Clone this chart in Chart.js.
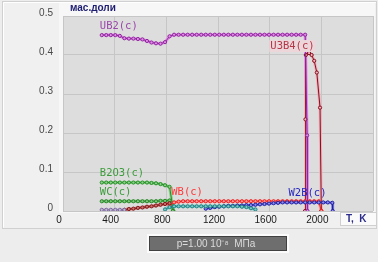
<!DOCTYPE html>
<html><head><meta charset="utf-8">
<script src="https://cdn.jsdelivr.net/npm/chart.js@4.4.1/dist/chart.umd.min.js"></script>
<style>html,body{margin:0;padding:0;background:#eeeeee;}canvas{display:block;}</style>
</head><body>
<canvas id="c" width="378" height="262"></canvas>
<script>
// ---- data ----
const xTicks = [0, 400, 800, 1200, 1600, 2000, 2400];
const xTickLabels = ['0', '400', '800', '1200', '1600', '2000', ''];
const yTicks = [0, 0.1, 0.2, 0.3, 0.4, 0.5];
const yTickLabels = ['0', '0.1', '0.2', '0.3', '0.4', '0.5'];

const T_UB2 = [300,335,370,405,440,475,510,545,580,615,650,685,720,755,790,825,860,895,930,965,1000,1035,1070,1105,1140,1175,1210,1245,1280,1315,1350,1385,1420,1455,1490,1525,1560,1595,1630,1665,1700,1735,1770,1805,1840,1875,1890,1893];
const UB2 = [0.451,0.451,0.451,0.451,0.449,0.443,0.442,0.442,0.441,0.440,0.436,0.432,0.430,0.429,0.433,0.448,0.452,0.452,0.452,0.452,0.452,0.452,0.452,0.452,0.452,0.452,0.452,0.452,0.452,0.452,0.452,0.452,0.452,0.452,0.452,0.452,0.452,0.452,0.452,0.452,0.452,0.452,0.452,0.452,0.452,0.452,0.194,0];

const T_U3B4 = [1874,1877,1880,1905,1925,1945,1965,1990,2000];
const U3B4 = [0,0.235,0.400,0.405,0.400,0.385,0.355,0.265,0];

const T_B2O3 = [300,335,370,405,440,475,510,545,580,615,650,685,720,755,790,825,845,855];
const B2O3 = [0.073,0.073,0.073,0.073,0.073,0.073,0.073,0.073,0.073,0.073,0.073,0.072,0.071,0.069,0.066,0.062,0.020,0];

const T_WC = [300,335,370,405,440,475,510,545,580,615,650,685,720,755,790,825,850];
const WC = [0.025,0.025,0.025,0.025,0.025,0.025,0.025,0.025,0.025,0.025,0.025,0.025,0.025,0.026,0.026,0.027,0];

const T_LAV = [300,335,370,405,440,475];
const LAV = [0.003,0.003,0.003,0.003,0.003,0.003];

const T_MAR = [475,510,545,580,615,650,685,720,755,790,825];
const MAR = [0.003,0.005,0.006,0.008,0.009,0.011,0.012,0.014,0.016,0.018,0.020];

const T_WB = [825,860,895,930,965,1000,1035,1070,1105,1140,1175,1210,1245,1280,1315,1350,1385,1420,1455,1490,1525,1560,1595,1630,1665,1700,1735,1770,1805,1840,1875,1910,1945,1980,2000];
const WB = [0.015,0.022,0.024,0.025,0.025,0.025,0.025,0.025,0.025,0.025,0.025,0.025,0.025,0.025,0.025,0.025,0.025,0.025,0.025,0.025,0.025,0.025,0.025,0.025,0.025,0.025,0.025,0.025,0.025,0.025,0.025,0.025,0.025,0.025,0];

const T_TEAL = [790,825,860,895,930,965,1000,1035,1070,1105,1140,1175,1210,1245,1280,1315,1350,1385,1420,1455,1490];
const TEAL = [0.004,0.010,0.012,0.012,0.012,0.012,0.012,0.012,0.012,0.012,0.012,0.012,0.012,0.012,0.012,0.012,0.012,0.011,0.010,0.007,0.004];

const T_W2B = [1105,1140,1175,1210,1245,1280,1315,1350,1385,1420,1455,1490,1525,1560,1595,1630,1665,1700,1735,1770,1805,1840,1875,1910,1945,1980,2015,2050,2085,2088];
const W2B = [0.006,0.008,0.010,0.011,0.012,0.013,0.013,0.014,0.014,0.015,0.015,0.016,0.017,0.018,0.019,0.020,0.021,0.022,0.022,0.022,0.022,0.022,0.022,0.022,0.022,0.022,0.022,0.022,0.021,0];

// ---- series styling ----
const series = [
  {t:T_LAV,  v:LAV,  core:'#7a6a98', halo:'#c4b8d8'},
  {t:T_MAR,  v:MAR,  core:'#801818', halo:'#d07070'},
  {t:T_TEAL, v:TEAL, core:'#1f8080', halo:'#7cc8c8'},
  {t:T_W2B,  v:W2B,  core:'#20209a', halo:'#8c8cf0'},
  {t:T_WB,   v:WB,   core:'#f01c1c', halo:'#ff9a9a'},
  {t:T_WC,   v:WC,   core:'#2a802a', halo:'#7ccc7c'},
  {t:T_B2O3, v:B2O3, core:'#2a8a2a', halo:'#88d488'},
  {t:T_UB2,  v:UB2,  core:'#8a2a9a', halo:'#e48ae8'},
  {t:T_U3B4, v:U3B4, core:'#860f1c', halo:'#f2b0bc'}
];

const seriesLabels = [
  {text:'UB2(c)',  x:285,  y:0.474, color:'#9a48aa'},
  {text:'U3B4(c)', x:1605, y:0.423, color:'#b23848', bg:'#ecd6da'},
  {text:'B2O3(c)', x:285,  y:0.097, color:'#3c9c3c'},
  {text:'WC(c)',   x:285,  y:0.048, color:'#3c9c3c'},
  {text:'WB(c)',   x:838,  y:0.048, color:'#ff3a3a'},
  {text:'W2B(c)',  x:1746, y:0.046, color:'#2626c0'}
];

const datasets = [];
series.forEach(s => {
  const pts = s.t.map((t, i) => ({x: t, y: s.v[i]}));
  datasets.push({data: pts, borderColor: s.core, borderWidth: 1, pointRadius: 1.6,
    pointBorderWidth: 1, pointBorderColor: s.core, pointBackgroundColor: s.halo, order: 0, tension: 0});
  datasets.push({data: pts, borderColor: s.halo, borderWidth: 3, pointRadius: 0, order: 1, tension: 0});
});

const framePlugin = {
  id: 'frame',
  beforeDraw(chart) {
    const c = chart.ctx, a = chart.chartArea;
    c.save();
    c.fillStyle = '#ededed'; c.fillRect(0, 0, 378, 262);
    c.fillStyle = '#f0f0f0'; c.fillRect(2, 1, 375, 228);
    c.strokeStyle = '#d0d0d0'; c.lineWidth = 1; c.strokeRect(2.5, 1.5, 374, 227);
    c.strokeStyle = '#ffffff';
    c.beginPath(); c.moveTo(3.5, 227.5); c.lineTo(3.5, 2.5); c.lineTo(376, 2.5); c.stroke();
    c.fillStyle = '#f7f7f7'; c.fillRect(a.left - 4, 3, a.right - a.left + 6, a.bottom - 1);
    c.fillStyle = '#dddddd'; c.fillRect(a.left, a.top, a.right - a.left, a.bottom - a.top);
    c.restore();
  },
  afterDraw(chart) {
    const c = chart.ctx, xs = chart.scales.x, ys = chart.scales.y;
    c.save();
    c.font = '10.5px "DejaVu Sans Mono"';
    c.textBaseline = 'middle'; c.textAlign = 'left';
    seriesLabels.forEach(l => {
      const px = xs.getPixelForValue(l.x), py = ys.getPixelForValue(l.y);
      if (l.bg) {
        const w = c.measureText(l.text).width;
        c.fillStyle = l.bg; c.fillRect(px - 1, py - 6, w + 2, 12);
      }
      c.fillStyle = l.color; c.fillText(l.text, px, py);
    });
    // axis title
    c.font = 'bold 10px "Liberation Sans"'; c.fillStyle = '#1c1c70';
    c.fillText('мас.доли', 70, 8);
    // T, K box
    c.fillStyle = '#fafafa'; c.fillRect(340, 212, 37, 14);
    c.strokeStyle = '#cfcfcf'; c.strokeRect(340.5, 212.5, 36, 13);
    c.fillStyle = '#2c2c8c'; c.font = 'bold 10px "Liberation Sans"';
    c.fillText('T,  K', 346, 219.5);
    // pressure box
    c.fillStyle = '#fbfbfb'; c.fillRect(147, 234, 142, 19);
    c.fillStyle = '#6e6e6e'; c.fillRect(149, 236, 138, 15);
    c.strokeStyle = '#404040'; c.strokeRect(149.5, 236.5, 137, 14);
    c.fillStyle = '#dcdcdc'; c.font = '10px "Liberation Sans"'; c.textAlign = 'center';
    c.fillText('p=1.00 10\u207B\u2078  МПа', 216, 244);
    c.restore();
  }
};

new Chart(document.getElementById('c'), {
  type: 'line',
  data: {datasets},
  options: {
    responsive: false, animation: false, devicePixelRatio: 1,
    layout: {padding: {left: 0, right: 3, top: 15, bottom: 31}},
    plugins: {legend: {display: false}, tooltip: {enabled: false}},
    scales: {
      x: {type: 'linear', min: 0, max: 2400,
        afterBuildTicks: s => { s.ticks = xTicks.map(v => ({value: v})); },
        afterFit: s => { s.height = 20; },
        grid: {color: '#c6c6c6', drawTicks: false, lineWidth: 1},
        border: {display: false},
        ticks: {padding: 3, labelOffset: -4, maxRotation: 0, autoSkip: false,
          color: '#1a1a1a', font: {family: 'Liberation Sans', size: 10},
          callback: (v, i) => xTickLabels[xTicks.indexOf(v)] ?? ''}
      },
      y: {type: 'linear', min: 0, max: 0.5,
        afterBuildTicks: s => { s.ticks = yTicks.map(v => ({value: v})); },
        afterFit: s => { s.width = 63; },
        grid: {color: '#c6c6c6', drawTicks: false, lineWidth: 1},
        border: {display: false},
        ticks: {padding: 10, labelOffset: -3, autoSkip: false,
          color: '#484848', font: {family: 'Liberation Sans', size: 10},
          callback: (v) => yTickLabels[yTicks.indexOf(v)] ?? ''}
      }
    }
  },
  plugins: [framePlugin]
});
</script>
</body></html>
